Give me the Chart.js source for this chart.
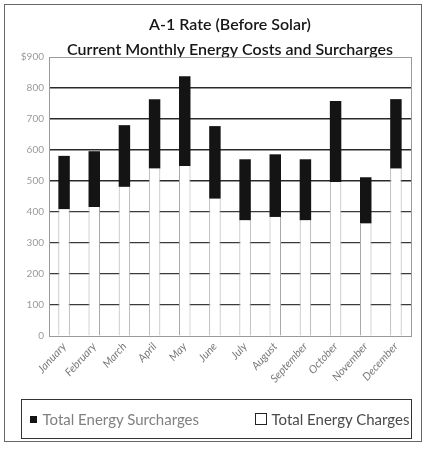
<!DOCTYPE html>
<html>
<head>
<meta charset="utf-8">
<script src="https://cdn.jsdelivr.net/npm/chart.js@4.4.1/dist/chart.umd.min.js"></script>
<style>
  html, body { margin: 0; padding: 0; background: #fff; }
  #wrap { position: relative; width: 429px; height: 450px; overflow: hidden; }
  #frame { position: absolute; left: 4px; top: 4px; width: 418px; height: 438px; border: 1px solid #666; box-sizing: border-box; }
  #chart { position: absolute; left: 0; top: 0; }
  #legend {
    position: absolute; left: 21px; top: 399px; width: 391px; height: 40px;
    border: 1.5px solid #333; box-sizing: border-box;
    font-family: Lato, "Open Sans", sans-serif; font-size: 15px;
  }
  .item { position: absolute; top: 0; height: 100%; display: flex; align-items: center; white-space: nowrap; }
  .sw { display: inline-block; box-sizing: border-box; }
</style>
</head>
<body>
<div id="wrap">
  <div id="frame"></div>
  <canvas id="chart" width="429" height="450"></canvas>
  <div id="legend"></div>
</div>
<script>
const titleLines = ['A-1 Rate (Before Solar)', 'Current Monthly Energy Costs and Surcharges'];
const months = ['January', 'February', 'March', 'April', 'May', 'June', 'July',
                'August', 'September', 'October', 'November', 'December'];
// Monthly energy charges ($)
const energyCharges = [409, 416, 481, 540, 548, 443, 373, 384, 373, 497, 363, 540];
// Monthly energy surcharges ($), stacked on top of the charges
const energySurcharges = [172, 180, 199, 224, 290, 234, 197, 202, 197, 261, 149, 224];
const chargesLabel = 'Total Energy Charges';
const surchargesLabel = 'Total Energy Surcharges';
const yMax = 900;
const yStep = 100;

// Thin grey frame around the plotting area
const plotFrame = {
  id: 'plotFrame',
  afterDatasetsDraw(chart) {
    const a = chart.chartArea, c = chart.ctx;
    c.save();
    c.strokeStyle = '#9a9a9a';
    c.lineWidth = 1;
    c.strokeRect(Math.round(a.left) + 0.5, Math.round(a.top) + 0.5,
                 Math.round(a.right - a.left), Math.round(a.bottom - a.top));
    c.restore();
  }
};

new Chart(document.getElementById('chart'), {
  type: 'bar',
  data: {
    labels: months,
    datasets: [
      {
        label: chargesLabel,
        data: energyCharges,
        backgroundColor: '#ffffff',
        borderColor: '#a8a8a8',
        borderWidth: { left: 1, right: 1, top: 0, bottom: 0 },
        borderSkipped: false
      },
      {
        label: surchargesLabel,
        data: energySurcharges,
        backgroundColor: '#141414',
        borderWidth: 0
      }
    ]
  },
  plugins: [plotFrame],
  options: {
    responsive: false,
    animation: false,
    layout: { padding: { left: 0, right: 18, top: 0, bottom: 0 } },
    datasets: { bar: { barPercentage: 0.38, categoryPercentage: 1 } },
    plugins: {
      legend: { display: false },
      tooltip: { enabled: false },
      title: {
        display: true,
        text: titleLines,
        fullSize: false,
        color: '#161616',
        font: { family: 'Lato, "Open Sans", sans-serif', size: 16, weight: '600', lineHeight: 1.53 },
        padding: { top: 13, bottom: -5 }
      }
    },
    scales: {
      x: {
        stacked: true,
        grid: { display: false, drawTicks: false },
        border: { display: false },
        afterFit(s) { s.height = 114; },
        ticks: {
          color: '#7a7a7a',
          font: { family: 'Lato, sans-serif', size: 11, style: 'italic' },
          minRotation: 48,
          maxRotation: 48,
          padding: 4,
          autoSkip: false
        }
      },
      y: {
        stacked: true,
        min: 0,
        max: yMax,
        afterFit(s) { s.width = 49; },
        border: { display: false },
        grid: {
          drawTicks: false,
          color: (ctx) => {
            const v = ctx.tick ? ctx.tick.value : 0;
            if (v === 0 || v === yMax) return 'rgba(0,0,0,0)';
            return v >= 500 ? '#2a2a2a' : '#3a3a3a';
          },
          lineWidth: (ctx) => {
            const v = ctx.tick ? ctx.tick.value : 0;
            return v >= 500 ? 1.4 : 1.2;
          }
        },
        ticks: {
          stepSize: yStep,
          color: '#9a9a9a',
          padding: 5,
          font: { family: 'Lato, sans-serif', size: 10 },
          callback: (v) => (v === yMax ? '$' + v : String(v))
        }
      }
    }
  }
});

// Legend row: surcharges first, then charges
const legend = document.getElementById('legend');
const items = [
  { label: surchargesLabel, left: 7.5, size: 7, gap: 6, fill: '#141414', border: 'none', color: '#808080' },
  { label: chargesLabel, left: 232.5, size: 12, gap: 5, fill: '#ffffff', border: '1.5px solid #222', color: '#4a4a4a' }
];
items.forEach(it => {
  const d = document.createElement('div');
  d.className = 'item';
  d.style.left = it.left + 'px';
  d.style.color = it.color;
  const sw = document.createElement('span');
  sw.className = 'sw';
  sw.style.width = it.size + 'px';
  sw.style.height = it.size + 'px';
  sw.style.marginRight = it.gap + 'px';
  sw.style.background = it.fill;
  sw.style.border = it.border;
  d.appendChild(sw);
  d.appendChild(document.createTextNode(it.label));
  legend.appendChild(d);
});
</script>
</body>
</html>
